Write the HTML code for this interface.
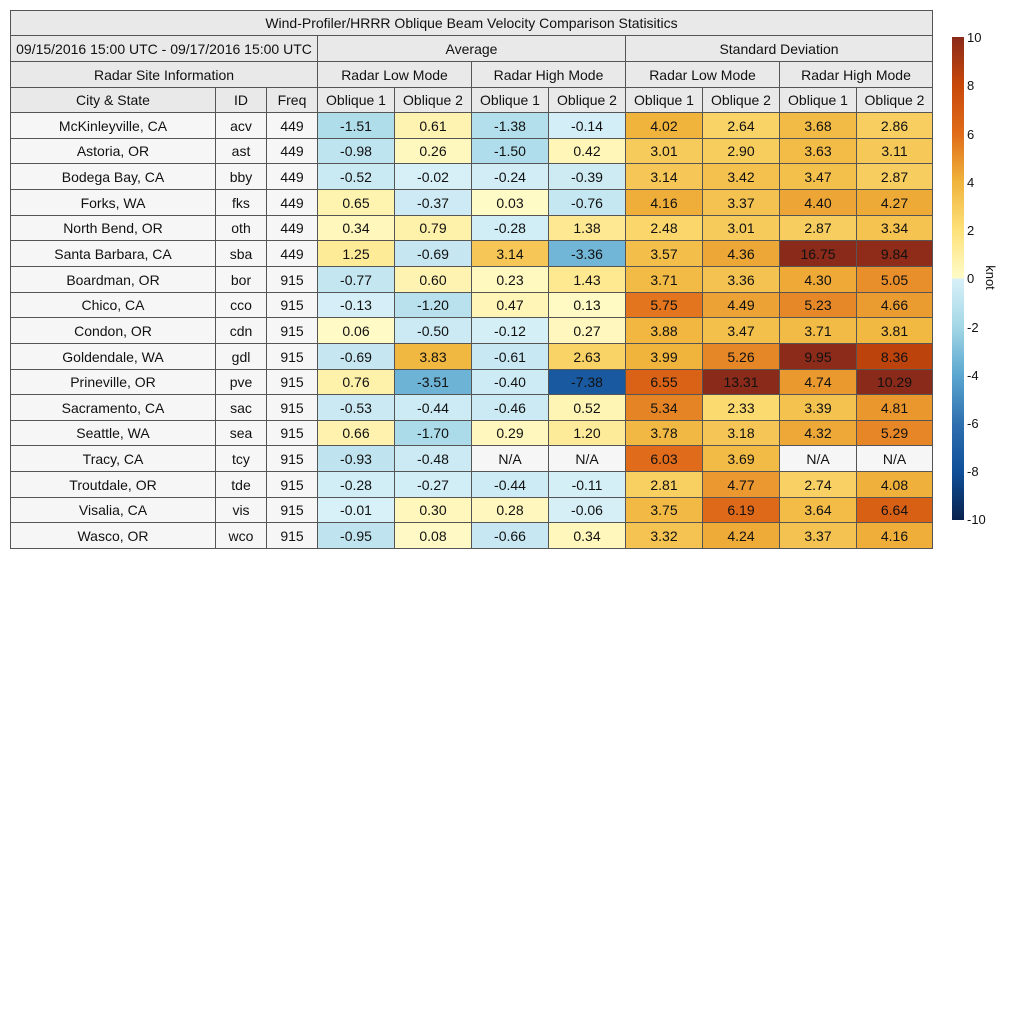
<!DOCTYPE html>
<html><head><meta charset="utf-8"><style>
body{margin:0;width:1024px;height:1024px;background:#fff;position:relative;font-family:"Liberation Sans",sans-serif;overflow:hidden}
.c{position:absolute;box-sizing:border-box;border:1px solid #555;display:flex;align-items:center;justify-content:center;font-size:14px;color:#111;white-space:nowrap}
.t{position:absolute;font-size:13px;color:#111}
</style></head><body>
<div id="g"></div>
<div style="position:absolute;left:952px;top:37px;width:12px;height:483px;background:linear-gradient(to bottom,#8a2a1a 0%,#c8480a 10%,#e06c1a 20%,#f0b43c 30%,#fde17a 40%,#fffbc8 49.9%,#d8f0f8 50.1%,#a3d7e6 60%,#5aa7d0 70%,#2f70b0 80%,#0f4f99 90%,#08224d 100%)"></div>
<div class="t" style="left:967px;top:30px">10</div>
<div class="t" style="left:967px;top:78px">8</div>
<div class="t" style="left:967px;top:127px">6</div>
<div class="t" style="left:967px;top:175px">4</div>
<div class="t" style="left:967px;top:223px">2</div>
<div class="t" style="left:967px;top:271px">0</div>
<div class="t" style="left:967px;top:320px">-2</div>
<div class="t" style="left:967px;top:368px">-4</div>
<div class="t" style="left:967px;top:416px">-6</div>
<div class="t" style="left:967px;top:464px">-8</div>
<div class="t" style="left:967px;top:512px">-10</div>
<div class="t" style="left:978px;top:270px;transform:rotate(90deg);transform-origin:center">knot</div>
<script>
const X=[10,215,266,317,394,471,548,625,702,779,856,932];
const g=document.getElementById('g');
function cell(x0,x1,y0,y1,txt,bg){const d=document.createElement('div');d.className='c';
d.style.cssText=`left:${x0}px;top:${y0}px;width:${x1-x0+1}px;height:${y1-y0+1}px;background:${bg}`;d.textContent=txt;g.appendChild(d);}
const H='#e9e9e9';
cell(10,932,10,35,'Wind-Profiler/HRRR Oblique Beam Velocity Comparison Statisitics',H);
cell(10,317,35,61,'09/15/2016 15:00 UTC - 09/17/2016 15:00 UTC',H);
cell(317,625,35,61,'Average',H);cell(625,932,35,61,'Standard Deviation',H);
cell(10,317,61,87,'Radar Site Information',H);
['Radar Low Mode','Radar High Mode','Radar Low Mode','Radar High Mode'].forEach((s,i)=>cell(X[3+2*i],X[5+2*i],61,87,s,H));
['City & State','ID','Freq','Oblique 1','Oblique 2','Oblique 1','Oblique 2','Oblique 1','Oblique 2','Oblique 1','Oblique 2'].forEach((s,i)=>cell(X[i],X[i+1],87,112,s,H));
const rows=[
['McKinleyville, CA','acv',449,-1.51,0.61,-1.38,-0.14,4.02,2.64,3.68,2.86],
['Astoria, OR','ast',449,-0.98,0.26,-1.50,0.42,3.01,2.90,3.63,3.11],
['Bodega Bay, CA','bby',449,-0.52,-0.02,-0.24,-0.39,3.14,3.42,3.47,2.87],
['Forks, WA','fks',449,0.65,-0.37,0.03,-0.76,4.16,3.37,4.40,4.27],
['North Bend, OR','oth',449,0.34,0.79,-0.28,1.38,2.48,3.01,2.87,3.34],
['Santa Barbara, CA','sba',449,1.25,-0.69,3.14,-3.36,3.57,4.36,16.75,9.84],
['Boardman, OR','bor',915,-0.77,0.60,0.23,1.43,3.71,3.36,4.30,5.05],
['Chico, CA','cco',915,-0.13,-1.20,0.47,0.13,5.75,4.49,5.23,4.66],
['Condon, OR','cdn',915,0.06,-0.50,-0.12,0.27,3.88,3.47,3.71,3.81],
['Goldendale, WA','gdl',915,-0.69,3.83,-0.61,2.63,3.99,5.26,9.95,8.36],
['Prineville, OR','pve',915,0.76,-3.51,-0.40,-7.38,6.55,13.31,4.74,10.29],
['Sacramento, CA','sac',915,-0.53,-0.44,-0.46,0.52,5.34,2.33,3.39,4.81],
['Seattle, WA','sea',915,0.66,-1.70,0.29,1.20,3.78,3.18,4.32,5.29],
['Tracy, CA','tcy',915,-0.93,-0.48,null,null,6.03,3.69,null,null],
['Troutdale, OR','tde',915,-0.28,-0.27,-0.44,-0.11,2.81,4.77,2.74,4.08],
['Visalia, CA','vis',915,-0.01,0.30,0.28,-0.06,3.75,6.19,3.64,6.64],
['Wasco, OR','wco',915,-0.95,0.08,-0.66,0.34,3.32,4.24,3.37,4.16]];
const stops=[[-10,[8,34,77]],[-8,[15,79,153]],[-6,[47,112,176]],[-4,[90,167,208]],[-2,[163,215,230]],[-0.0001,[216,240,248]],[0,[255,251,200]],[2,[253,225,122]],[4,[240,180,60]],[6,[224,108,26]],[8,[200,72,10]],[10,[138,42,26]]];
function col(v){v=Math.max(-10,Math.min(10,v));if(v<0&&v>-0.0001)v=-0.0001;
for(let i=0;i<stops.length-1;i++){const[a,ca]=stops[i],[b,cb]=stops[i+1];if(v>=a&&v<=b){const t=b==a?0:(v-a)/(b-a);return 'rgb('+ca.map((c,k)=>Math.round(c+(cb[k]-c)*t)).join(',')+')';}}return '#fff';}
rows.forEach((r,i)=>{const y0=Math.round(112+25.65*i),y1=Math.round(112+25.65*(i+1));
for(let j=0;j<11;j++){const v=r[j];let bg='#f6f6f6',txt=v;
if(j>=3){if(v===null){txt='N/A';bg='#f6f6f6';}else{txt=v.toFixed(2);bg=col(v);}}
cell(X[j],X[j+1],y0,y1,txt,bg);}});
</script>
</body></html>
